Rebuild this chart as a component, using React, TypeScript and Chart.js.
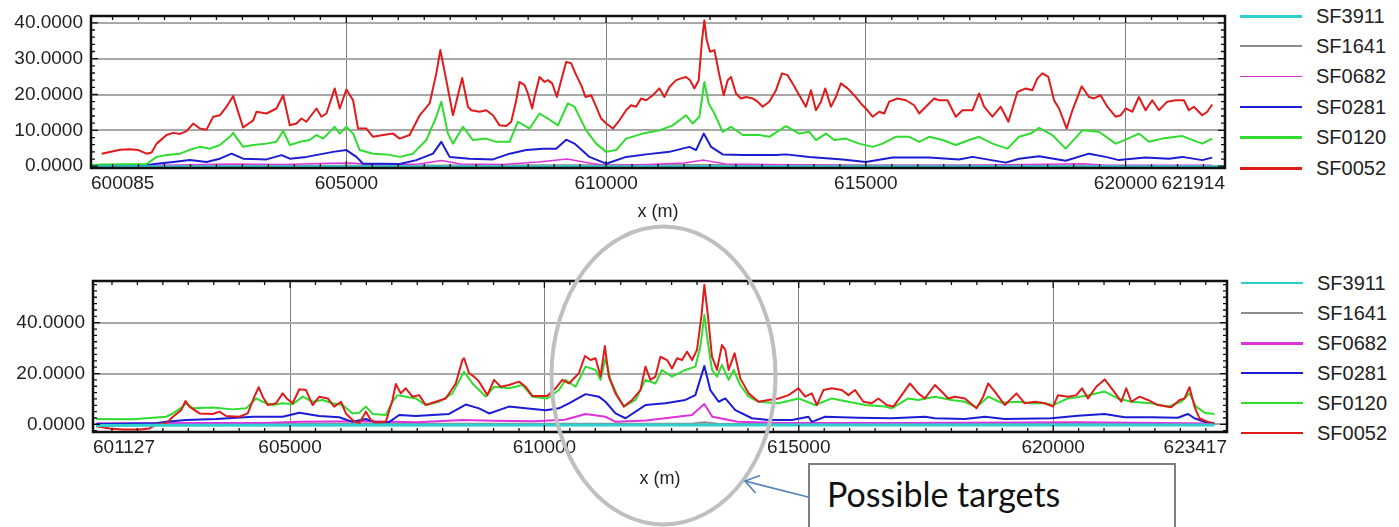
import React, { useEffect, useRef } from "react";
import { Chart, registerables } from "chart.js";

Chart.register(...registerables);

type Pt = [number, number];

// ---------------- Series names (legend order) ----------------
const SERIES_NAMES = ["SF3911", "SF1641", "SF0682", "SF0281", "SF0120", "SF0052"];

// ---------------- Top profile ----------------
const TOP_X_MIN = 600085;
const TOP_X_MAX = 621914;
const TOP_X_TICKS = [600085, 605000, 610000, 615000, 620000, 621914];
const TOP_Y_MIN = -0.5;
const TOP_Y_MAX = 41.9;
const TOP_Y_TICKS = [0, 10, 20, 30, 40];

const topSF3911: Pt[] = [[600085, 0], [610000, 0], [621914, 0]];
const topSF1641: Pt[] = [[600098, 0.1], [606830, 0.3], [611890, 0.4], [621668, 0.1]];
const topSF0682: Pt[] = [
  [600098, 0.1], [601500, 0.3], [602800, 0.6], [603800, 0.5], [604700, 0.8], [605100, 0.9],
  [605600, 0.3], [606400, 0.6], [606830, 1.6], [607200, 0.6], [608000, 0.5], [608700, 1.2],
  [609250, 2.0], [609700, 0.8], [610000, 0.2], [610800, 0.5], [611500, 0.9], [611880, 1.7],
  [612300, 0.6], [613500, 0.4], [615000, 0.2], [617000, 0.3], [619200, 0.7], [619600, 0.3],
  [621668, 0.3],
];
const topSF0281: Pt[] = [
  [600098, 0.1], [601091, 0.1], [601348, 0.7], [601668, 1.2], [601989, 1.7], [602309, 1.2],
  [602566, 2.1], [602790, 3.5], [603014, 2.1], [603463, 1.9], [603752, 3.1], [603912, 2.1],
  [604232, 2.6], [604489, 3.3], [604745, 4.0], [605001, 4.5], [605194, 2.6], [605322, 0.7],
  [605707, 0.7], [606027, 0.6], [606348, 1.7], [606668, 3.5], [606828, 6.8], [606988, 2.6],
  [607373, 2.1], [607822, 1.9], [608143, 3.5], [608463, 4.5], [608784, 4.9], [609040, 4.9],
  [609232, 7.4], [609392, 6.3], [609681, 2.6], [610001, 0.7], [610386, 2.6], [610771, 3.3],
  [611219, 4.0], [611604, 5.4], [611732, 4.5], [611880, 9.1], [612021, 5.4], [612245, 3.3],
  [612630, 3.1], [613271, 3.1], [613463, 3.3], [613912, 2.6], [614553, 1.9], [615001, 1.2],
  [615514, 2.4], [616219, 2.4], [616796, 1.9], [617053, 2.6], [617694, 1.0], [617950, 2.1],
  [618335, 2.8], [618847, 1.5], [619296, 3.5], [619617, 2.6], [619873, 1.7], [620386, 2.4],
  [620835, 2.1], [621091, 2.6], [621476, 1.7], [621668, 2.4],
];
const topSF0120: Pt[] = [
  [600098, 0.3], [600258, 0.5], [601155, 0.6], [601348, 2.6], [601540, 3.1], [601796, 3.5],
  [602053, 4.9], [602181, 5.4], [602373, 4.9], [602566, 5.9], [602758, 8.2], [602822, 9.3],
  [602899, 7.7], [603014, 5.4], [603207, 5.9], [603463, 6.3], [603655, 6.8], [603784, 9.9],
  [603912, 5.9], [604104, 6.8], [604296, 7.3], [604425, 8.7], [604553, 7.7], [604777, 11.0],
  [604873, 9.1], [605001, 11.0], [605130, 9.1], [605258, 4.5], [605514, 3.5], [605771, 3.3],
  [606027, 2.6], [606283, 3.5], [606540, 7.3], [606732, 13.8], [606828, 18.0], [606956, 9.1],
  [607053, 6.3], [607245, 11.0], [607437, 7.3], [607694, 7.7], [607886, 6.8], [608143, 6.8],
  [608303, 12.4], [608527, 10.5], [608719, 14.7], [608880, 13.3], [609072, 11.4], [609264, 17.5],
  [609392, 16.6], [609617, 10.0], [609809, 6.3], [610001, 4.0], [610194, 4.5], [610386, 7.7],
  [610707, 9.1], [611027, 10.0], [611283, 11.4], [611540, 14.2], [611668, 11.9], [611796, 13.8],
  [611892, 23.5], [611976, 17.5], [612085, 14.7], [612245, 9.6], [612405, 11.0], [612630, 8.7],
  [612950, 8.7], [613142, 8.2], [613463, 11.2], [613719, 9.1], [613912, 9.6], [614040, 7.3],
  [614232, 9.1], [614392, 7.3], [614617, 7.7], [614873, 6.3], [615129, 5.4], [615322, 6.3],
  [615578, 8.2], [615835, 8.2], [616027, 6.8], [616219, 8.2], [616476, 7.3], [616732, 5.9],
  [616989, 7.3], [617181, 8.2], [617437, 6.3], [617726, 4.9], [617950, 8.2], [618174, 9.1],
  [618335, 10.7], [618591, 8.7], [618847, 4.9], [619168, 10.0], [619489, 9.6], [619809, 6.3],
  [620001, 7.4], [620257, 9.1], [620450, 6.8], [620706, 7.7], [621091, 8.4], [621476, 6.3],
  [621668, 7.7],
];
const topSF0052: Pt[] = [
  [600290, 3.5], [600514, 4.2], [600643, 4.6], [600835, 4.7], [600995, 4.5], [601155, 3.5],
  [601252, 3.8], [601348, 6.3], [601540, 8.7], [601668, 9.3], [601796, 9.0], [601925, 9.8],
  [602053, 11.9], [602181, 10.5], [602309, 10.2], [602437, 13.8], [602566, 14.2], [602694, 16.6],
  [602822, 19.6], [602899, 16.0], [603014, 10.8], [603207, 12.8], [603271, 15.2], [603463, 14.7],
  [603655, 16.1], [603784, 19.8], [603912, 11.4], [604040, 11.9], [604136, 13.3], [604232, 12.4],
  [604425, 16.1], [604521, 13.8], [604617, 14.7], [604777, 21.7], [604873, 16.1], [605001, 21.4],
  [605130, 18.4], [605226, 10.5], [605386, 10.5], [605514, 8.2], [605707, 8.7], [605899, 9.1],
  [606027, 7.7], [606219, 8.7], [606412, 14.2], [606604, 17.5], [606732, 25.9], [606809, 32.4],
  [606924, 24.0], [607053, 14.2], [607230, 24.6], [607341, 16.6], [607405, 15.6], [607566, 15.2],
  [607694, 15.6], [607822, 14.2], [607950, 11.4], [608078, 11.2], [608175, 12.4], [608271, 18.4],
  [608335, 23.5], [608431, 22.6], [608495, 20.3], [608578, 16.1], [608623, 19.3], [608719, 24.9],
  [608816, 23.5], [608880, 24.0], [608963, 23.1], [609053, 19.3], [609136, 24.0], [609232, 29.1],
  [609328, 28.7], [609425, 25.4], [609521, 22.6], [609604, 19.3], [609713, 19.8], [609809, 16.6],
  [609905, 13.3], [610001, 11.9], [610130, 10.5], [610258, 12.8], [610386, 15.6], [610482, 17.0],
  [610578, 16.6], [610674, 18.9], [610771, 18.4], [610899, 19.8], [611027, 21.7], [611123, 19.3],
  [611219, 22.1], [611348, 24.0], [611444, 24.5], [611540, 24.9], [611617, 24.0], [611700, 21.7],
  [611783, 24.0], [611847, 35.2], [611892, 40.7], [611937, 35.2], [612001, 31.9], [612085, 32.4],
  [612181, 25.4], [612264, 19.8], [612341, 24.0], [612405, 24.9], [612501, 20.3], [612597, 18.9],
  [612694, 19.3], [612822, 18.9], [612918, 18.0], [613014, 16.6], [613142, 18.0], [613271, 21.2],
  [613386, 25.9], [613495, 25.4], [613591, 23.1], [613719, 19.8], [613847, 16.6], [613944, 21.2],
  [614040, 15.6], [614136, 18.0], [614219, 21.7], [614328, 16.6], [614424, 19.3], [614520, 23.1],
  [614649, 21.7], [614777, 19.8], [614905, 17.5], [615001, 16.1], [615129, 13.8], [615258, 15.2],
  [615354, 14.7], [615450, 18.0], [615610, 18.9], [615770, 18.4], [615931, 17.0], [616027, 14.7],
  [616155, 16.6], [616315, 18.9], [616412, 18.4], [616572, 18.4], [616732, 13.8], [616860, 15.6],
  [617053, 15.6], [617181, 20.3], [617277, 16.6], [617437, 13.8], [617597, 16.6], [617745, 12.4],
  [617918, 20.7], [618078, 21.7], [618206, 21.2], [618303, 24.5], [618399, 25.9], [618514, 24.9],
  [618623, 18.4], [618719, 16.1], [618867, 10.5], [618976, 15.6], [619155, 22.3], [619296, 19.3],
  [619392, 18.9], [619520, 19.8], [619649, 16.6], [619809, 13.8], [619905, 14.2], [620001, 16.1],
  [620129, 15.2], [620257, 19.3], [620386, 15.6], [620514, 18.4], [620642, 15.6], [620802, 18.0],
  [620963, 18.4], [621123, 18.4], [621219, 15.6], [621315, 16.6], [621476, 14.2], [621572, 15.2],
  [621668, 17.2],
];

// ---------------- Bottom profile ----------------
const BOT_X_MIN = 601127;
const BOT_X_MAX = 623417;
const BOT_X_TICKS = [601127, 605000, 610000, 615000, 620000, 623417];
const BOT_Y_MIN = -3;
const BOT_Y_MAX = 56.4;
const BOT_Y_TICKS = [0, 20, 40];

const botSF3911: Pt[] = [[601192, -0.4], [602370, -0.3], [612000, -0.2], [623170, -0.2]];
const botSF1641: Pt[] = [[601192, 0.3], [612900, 0.3], [613144, 0.9], [613400, 0.3], [623170, 0.2]];
const botSF0682: Pt[] = [
  [601192, 0.3], [603000, 0.5], [604500, 0.5], [605200, 1.0], [606500, 1.2], [607500, 0.8],
  [608400, 1.7], [609000, 1.4], [609800, 1.2], [610400, 1.8], [610809, 4.1], [611200, 3.0],
  [611400, 1.0], [612000, 1.5], [612900, 3.7], [613144, 8.0], [613300, 3.0], [613800, 1.0],
  [614500, 0.6], [617000, 0.5], [620500, 0.8], [623170, 0.3],
];
const botSF0281: Pt[] = [
  [601192, 0.1], [602370, 0.4], [602566, 1.0], [602958, 1.7], [603547, 2.1], [604267, 3.0],
  [604855, 3.0], [605182, 4.6], [605575, 3.3], [605967, 2.8], [606229, 1.0], [606491, 2.1],
  [606687, 0.7], [606948, 0.9], [607145, 3.7], [607472, 3.3], [607799, 3.7], [608126, 4.1],
  [608453, 7.8], [608715, 6.3], [608912, 4.3], [609304, 7.0], [609631, 6.3], [610024, 5.6],
  [610285, 6.3], [610482, 8.3], [610809, 11.9], [611070, 10.9], [611201, 8.9], [611397, 4.3],
  [611594, 2.4], [611986, 7.6], [612378, 8.3], [612771, 9.6], [612967, 11.5], [613144, 23.0],
  [613261, 13.5], [613425, 8.9], [613556, 10.2], [613752, 5.6], [614079, 2.4], [614406, 1.7],
  [614864, 1.7], [615191, 3.0], [615256, 1.0], [615518, 3.0], [616172, 2.6], [616826, 2.4],
  [617480, 3.0], [617676, 2.4], [618265, 2.1], [618657, 3.0], [619050, 2.1], [619965, 2.4],
  [620489, 3.4], [621012, 4.1], [621405, 2.8], [621928, 2.8], [622451, 2.6], [622647, 4.1],
  [622778, 2.4], [622975, 1.0], [623170, 0.4],
];
const botSF0120: Pt[] = [
  [601192, 2.1], [601912, 2.0], [602304, 2.6], [602566, 3.0], [602697, 4.3], [602893, 7.0],
  [602958, 8.3], [603089, 6.3], [603482, 6.6], [603874, 5.9], [604136, 6.3], [604332, 10.2],
  [604463, 8.9], [604659, 7.6], [604855, 8.3], [605052, 7.9], [605248, 10.9], [605444, 8.9],
  [605640, 9.6], [605837, 8.3], [606033, 7.6], [606229, 4.3], [606360, 4.6], [606491, 7.0],
  [606621, 4.1], [606883, 3.7], [607014, 8.9], [607112, 11.5], [607275, 10.9], [607472, 10.2],
  [607668, 7.6], [607930, 8.9], [608191, 12.2], [608420, 20.7], [608585, 16.1], [608846, 10.9],
  [609010, 14.8], [609304, 14.2], [609566, 15.5], [609762, 10.9], [610056, 10.2], [610285, 13.5],
  [610416, 17.5], [610612, 14.8], [610809, 22.7], [611005, 21.4], [611103, 17.5], [611201, 26.0],
  [611299, 17.5], [611430, 11.5], [611561, 7.0], [611790, 9.6], [611986, 17.5], [612182, 16.1],
  [612313, 21.4], [612509, 18.8], [612771, 21.4], [612967, 22.7], [613065, 30.6], [613144, 43.0],
  [613216, 31.9], [613294, 21.4], [613392, 18.8], [613490, 23.4], [613621, 17.5], [613719, 21.4],
  [613850, 15.5], [614014, 10.9], [614210, 8.9], [614602, 8.3], [614995, 10.2], [615322, 7.6],
  [615649, 10.2], [615976, 8.9], [616303, 7.6], [616695, 7.0], [616826, 6.3], [617153, 10.2],
  [617349, 9.6], [617676, 10.9], [618003, 9.6], [618265, 8.9], [618494, 6.7], [618723, 10.9],
  [618984, 8.5], [619311, 8.9], [619573, 8.3], [619835, 8.3], [619998, 7.6], [620292, 10.2],
  [620620, 11.2], [621012, 12.9], [621273, 10.2], [621535, 8.9], [621928, 8.3], [622255, 7.0],
  [622517, 8.9], [622680, 12.2], [622811, 7.0], [622975, 4.6], [623170, 4.1],
];
const botSF0052: Pt[] = [
  [601192, -0.7], [601454, -1.6], [601716, -2.0], [602043, -2.0], [602239, -1.6], [602370, 0.0],
  [602566, 0.4], [602697, 3.0], [602860, 5.6], [602945, 9.2], [603024, 7.0], [603220, 4.3],
  [603482, 4.1], [603613, 5.0], [603743, 3.3], [604005, 3.0], [604169, 4.3], [604299, 10.9],
  [604384, 14.6], [604463, 10.9], [604561, 7.6], [604725, 8.3], [604855, 12.2], [604934, 10.2],
  [605052, 8.3], [605182, 13.8], [605313, 13.5], [605444, 7.6], [605575, 10.9], [605741, 10.2],
  [605869, 7.0], [606000, 8.9], [606098, 4.3], [606229, 1.7], [606360, 0.4], [606491, 5.0],
  [606589, 1.7], [606687, 0.7], [606883, 1.0], [607014, 9.6], [607079, 15.9], [607177, 12.2],
  [607275, 14.2], [607406, 10.9], [607537, 11.5], [607668, 7.6], [607864, 8.9], [608060, 10.2],
  [608257, 16.1], [608388, 25.3], [608421, 26.0], [608519, 20.1], [608617, 18.8], [608715, 16.8],
  [608879, 11.5], [609010, 17.5], [609141, 14.8], [609304, 15.5], [609501, 16.8], [609631, 14.8],
  [609762, 11.2], [610056, 11.2], [610220, 14.2], [610351, 17.5], [610482, 16.1], [610678, 20.1],
  [610796, 26.9], [610907, 25.3], [611005, 26.0], [611103, 18.8], [611188, 30.8], [611266, 18.8],
  [611397, 12.2], [611561, 7.0], [611724, 9.6], [611888, 13.5], [611986, 22.7], [612084, 17.5],
  [612182, 18.8], [612280, 26.6], [612411, 25.3], [612509, 22.0], [612607, 26.0], [612705, 25.3],
  [612804, 28.6], [612902, 25.3], [612999, 29.3], [613085, 42.4], [613144, 54.9], [613216, 42.4],
  [613294, 26.6], [613392, 21.4], [613490, 31.2], [613556, 29.3], [613621, 21.4], [613739, 28.0],
  [613850, 18.1], [614014, 12.2], [614210, 8.9], [614406, 9.6], [614602, 10.2], [614799, 11.5],
  [614995, 14.2], [615126, 10.9], [615256, 12.2], [615355, 7.6], [615485, 13.5], [615649, 14.2],
  [615845, 13.5], [615976, 11.5], [616107, 13.5], [616270, 8.9], [616434, 8.3], [616565, 10.2],
  [616728, 7.6], [616859, 7.0], [617023, 11.5], [617186, 16.1], [617349, 12.2], [617480, 10.2],
  [617676, 15.5], [617807, 12.9], [617938, 10.2], [618069, 10.9], [618265, 10.2], [618494, 6.3],
  [618625, 10.9], [618723, 16.1], [618853, 12.9], [619050, 7.6], [619279, 12.2], [619442, 8.3],
  [619638, 8.9], [619835, 8.3], [619998, 7.0], [620096, 11.5], [620292, 10.9], [620456, 11.5],
  [620567, 14.2], [620685, 10.2], [620848, 14.8], [621012, 17.7], [621175, 13.5], [621339, 8.9],
  [621437, 14.2], [621535, 8.9], [621699, 10.9], [621862, 9.6], [622058, 7.6], [622320, 6.7],
  [622484, 9.6], [622582, 10.2], [622680, 14.6], [622778, 7.0], [622876, 2.4], [623040, 1.0],
  [623170, 0.1],
];

// ---------------- Styles ----------------
const SERIES_COLORS = ["#2ecfcf", "#8c8c8c", "#dd33dd", "#1c1cd4", "#2fdc2f", "#e01b1b"];
const SERIES_ORDER = [0, 5, 4, 3, 2, 1];
const TOP_LINE_WIDTHS = [2, 1.5, 1.5, 2, 2, 2];
const BOT_LINE_WIDTHS = [3, 1.5, 2, 2, 2, 2];
const TOP_LEGEND_WIDTHS = [3, 2, 1, 2.5, 2.5, 3];
const BOT_LEGEND_WIDTHS = [1.5, 2, 3, 2.5, 2, 2.5];
const FONT = "'Liberation Sans', Arial, sans-serif";

const frameTicks = {
  id: "frameTicks",
  afterDatasetsDraw(chart: any, _args: any, opts: any) {
    const { ctx, chartArea: a } = chart;
    const xs = chart.scales.x;
    const ys = chart.scales.y;
    ctx.save();
    ctx.strokeStyle = "#111";
    ctx.lineWidth = 1.3;
    ctx.beginPath();
    const x0 = Math.ceil(xs.min / opts.xStep);
    for (let k = x0; k * opts.xStep <= xs.max; k++) {
      const v = k * opts.xStep;
      const px = xs.getPixelForValue(v);
      const len = v % opts.xMajor === 0 ? 7 : 4;
      ctx.moveTo(px, a.top);
      ctx.lineTo(px, a.top + len);
      ctx.moveTo(px, a.bottom);
      ctx.lineTo(px, a.bottom - len);
    }
    const y0 = Math.ceil(ys.min / opts.yStep);
    for (let k = y0; k * opts.yStep <= ys.max; k++) {
      const v = k * opts.yStep;
      const py = ys.getPixelForValue(v);
      const r = v / opts.yMajor;
      const len = Math.abs(r - Math.round(r)) < 1e-6 ? 7 : 4;
      ctx.moveTo(a.left, py);
      ctx.lineTo(a.left + len, py);
      ctx.moveTo(a.right, py);
      ctx.lineTo(a.right - len, py);
    }
    ctx.stroke();
    ctx.lineWidth = 2.5;
    ctx.strokeRect(a.left, a.top, a.right - a.left, a.bottom - a.top);
    ctx.restore();
  },
};

type Panel = {
  series: Pt[][];
  lineWidths: number[];
  xMin: number; xMax: number; xTicks: number[];
  yMin: number; yMax: number; yTicks: number[];
  yStep: number; yMajor: number;
  left: number; top: number; width: number; height: number;
  padTop: number; padRight: number; yAxisWidth: number; xAxisHeight: number;
};

function buildConfig(p: Panel): any {
  const datasets = SERIES_NAMES.map((name, i) => ({
    label: name,
    data: p.series[i].map(([x, y]) => ({ x, y })),
    borderColor: SERIES_COLORS[i],
    backgroundColor: SERIES_COLORS[i],
    borderWidth: p.lineWidths[i],
    pointRadius: 0,
    tension: 0,
    fill: false,
    order: SERIES_ORDER[i],
    borderJoinStyle: "round",
  }));
  return {
    type: "line",
    data: { datasets },
    plugins: [frameTicks],
    options: {
      responsive: false,
      animation: false,
      events: [],
      layout: { padding: { top: p.padTop, right: p.padRight, left: 0, bottom: 0 } },
      plugins: {
        legend: { display: false },
        tooltip: { enabled: false },
        frameTicks: { xStep: 500, xMajor: 5000, yStep: p.yStep, yMajor: p.yMajor },
      },
      scales: {
        x: {
          type: "linear",
          min: p.xMin,
          max: p.xMax,
          afterBuildTicks: (s: any) => {
            s.ticks = p.xTicks.map((v) => ({ value: v }));
          },
          afterFit: (s: any) => {
            s.height = p.xAxisHeight;
            s.paddingLeft = 0;
            s.paddingRight = 0;
          },
          ticks: {
            autoSkip: false,
            maxRotation: 0,
            align: "inner",
            padding: 4,
            color: "#222",
            font: { family: FONT, size: 19 },
            callback: (v: any) => String(v),
          },
          grid: {
            drawTicks: false,
            lineWidth: 1,
            color: (c: any) =>
              c.tick && (c.tick.value === p.xMin || c.tick.value === p.xMax) ? "rgba(0,0,0,0)" : "#808080",
          },
          border: { display: false },
          title: {
            display: true,
            text: "x (m)",
            color: "#222",
            padding: 0,
            font: { family: FONT, size: 18 },
          },
        },
        y: {
          type: "linear",
          min: p.yMin,
          max: p.yMax,
          afterBuildTicks: (s: any) => {
            s.ticks = p.yTicks.map((v) => ({ value: v }));
          },
          afterFit: (s: any) => {
            s.width = p.yAxisWidth;
            s.paddingTop = 0;
            s.paddingBottom = 0;
          },
          ticks: {
            padding: 8,
            color: "#222",
            font: { family: FONT, size: 19 },
            callback: (v: any) => Number(v).toFixed(4),
          },
          grid: { drawTicks: false, lineWidth: 2, color: "#a8a8a8" },
          border: { display: false },
        },
      },
    },
  };
}

function ProfileChart({ p }: { p: Panel }) {
  const ref = useRef<HTMLCanvasElement>(null);
  useEffect(() => {
    const chart = new Chart(ref.current as HTMLCanvasElement, buildConfig(p));
    return () => chart.destroy();
  }, []);
  return (
    <canvas
      ref={ref}
      width={p.width}
      height={p.height}
      style={{ position: "absolute", left: p.left, top: p.top, width: p.width, height: p.height }}
    />
  );
}

function Legend({ top, spacing, widths, left }: { top: number; spacing: number; widths: number[]; left: number }) {
  return (
    <>
      {SERIES_NAMES.map((name, i) => (
        <div
          key={name}
          style={{
            position: "absolute",
            left,
            top: top + i * spacing - 12,
            height: 24,
            display: "flex",
            alignItems: "center",
            fontFamily: FONT,
            fontSize: 20,
            color: "#222",
            whiteSpace: "nowrap",
          }}
        >
          <div style={{ width: 62, height: widths[i], background: SERIES_COLORS[i], marginRight: 14 }} />
          <span>{name}</span>
        </div>
      ))}
    </>
  );
}

const topPanel: Panel = {
  series: [topSF3911, topSF1641, topSF0682, topSF0281, topSF0120, topSF0052],
  lineWidths: TOP_LINE_WIDTHS,
  xMin: TOP_X_MIN, xMax: TOP_X_MAX, xTicks: TOP_X_TICKS,
  yMin: TOP_Y_MIN, yMax: TOP_Y_MAX, yTicks: TOP_Y_TICKS,
  yStep: 2, yMajor: 10,
  left: 0, top: 0, width: 1240, height: 223,
  padTop: 16, padRight: 15, yAxisWidth: 91, xAxisHeight: 55,
};

const botPanel: Panel = {
  series: [botSF3911, botSF1641, botSF0682, botSF0281, botSF0120, botSF0052],
  lineWidths: BOT_LINE_WIDTHS,
  xMin: BOT_X_MIN, xMax: BOT_X_MAX, xTicks: BOT_X_TICKS,
  yMin: BOT_Y_MIN, yMax: BOT_Y_MAX, yTicks: BOT_Y_TICKS,
  yStep: 2.5, yMajor: 20,
  left: 0, top: 265, width: 1240, height: 225,
  padTop: 16, padRight: 13, yAxisWidth: 93, xAxisHeight: 58,
};

function Annotation() {
  const tip = { x: 745, y: 481 };
  const tail = { x: 808, y: 497 };
  const ang = Math.atan2(tail.y - tip.y, tail.x - tip.x);
  const L = 16;
  const w1 = { x: tip.x + L * Math.cos(ang + 0.6), y: tip.y + L * Math.sin(ang + 0.6) };
  const w2 = { x: tip.x + L * Math.cos(ang - 0.6), y: tip.y + L * Math.sin(ang - 0.6) };
  return (
    <>
      <svg
        width={1399}
        height={527}
        style={{ position: "absolute", left: 0, top: 0, pointerEvents: "none" }}
      >
        <ellipse cx={663.5} cy={375.5} rx={112} ry={149} fill="none" stroke="#bfbfbf" strokeWidth={4} />
        <line x1={tail.x} y1={tail.y} x2={tip.x} y2={tip.y} stroke="#4f81bd" strokeWidth={1.6} />
        <polyline
          points={`${w1.x},${w1.y} ${tip.x},${tip.y} ${w2.x},${w2.y}`}
          fill="none"
          stroke="#4f81bd"
          strokeWidth={1.6}
        />
      </svg>
      <div
        style={{
          position: "absolute",
          left: 808,
          top: 463,
          width: 368,
          height: 90,
          border: "2px solid #7f7f7f",
          background: "#fff",
          boxSizing: "border-box",
        }}
      />
      <div
        style={{
          position: "absolute",
          left: 827,
          top: 474,
          fontFamily: "Lato, 'Open Sans', sans-serif",
          fontSize: 34,
          lineHeight: "40px",
          color: "#111",
          whiteSpace: "nowrap",
        }}
      >
        Possible targets
      </div>
    </>
  );
}

export default function App() {
  return (
    <div
      style={{
        position: "absolute",
        left: 0,
        top: 0,
        width: 1399,
        height: 527,
        overflow: "hidden",
        background: "#fff",
      }}
    >
      <ProfileChart p={topPanel} />
      <ProfileChart p={botPanel} />
      <Legend top={16} spacing={30.4} widths={TOP_LEGEND_WIDTHS} left={1240} />
      <Legend top={283} spacing={30} widths={BOT_LEGEND_WIDTHS} left={1241} />
      <Annotation />
    </div>
  );
}
